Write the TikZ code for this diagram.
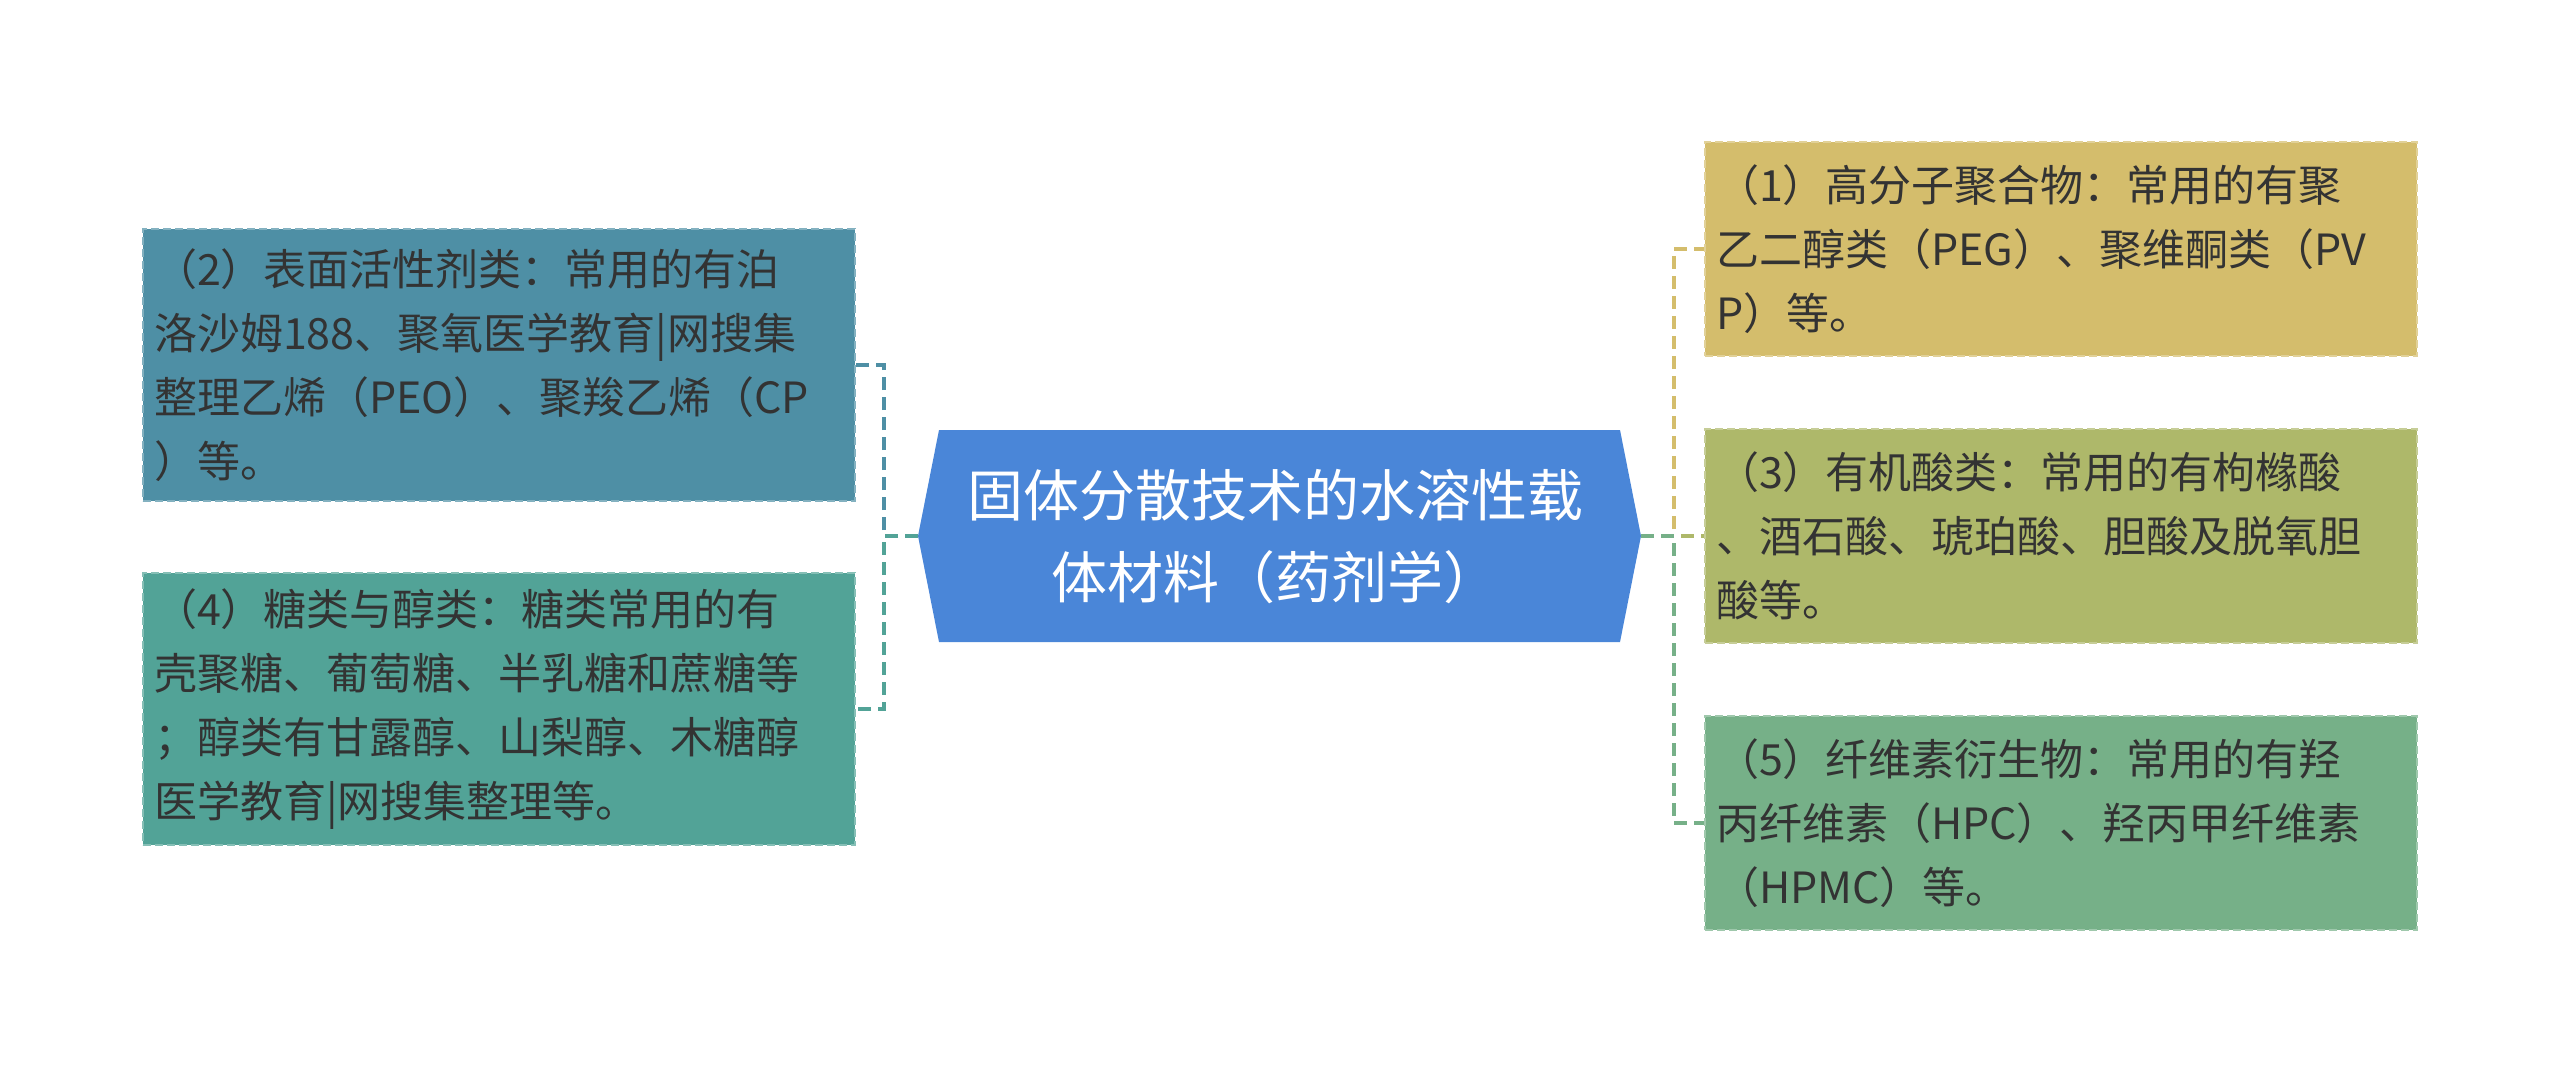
\documentclass[tikz,border=0pt]{standalone}
\usepackage{fontspec}
\setmainfont{Noto Sans CJK SC}
\usetikzlibrary{calc}
\definecolor{cB}{HTML}{4E8FA5}
\definecolor{cD}{HTML}{52A397}
\definecolor{cA}{HTML}{D4BD6C}
\definecolor{cC}{HTML}{AEB86A}
\definecolor{cE}{HTML}{76B088}
\definecolor{cM}{HTML}{4A86D8}
\definecolor{tx}{HTML}{333333}
\tikzset{
  leaf/.style={draw=#1!70!white, fill=#1, line width=2.5pt, dash pattern=on 8pt off 4pt, minimum width=712pt, minimum height=214pt, text width=690pt, align=left, inner sep=0pt, text=tx, font=\fontsize{43}{64}\selectfont},
  conn/.style={draw=#1, line width=3.5pt, dash pattern=on 13pt off 7pt},
}
\begin{document}
\begin{tikzpicture}[x=1pt,y=-1pt]
\useasboundingbox (0,0) rectangle (2560,1075);
% centre hexagon
\fill[cM] (918,536) -- (939,430) -- (1620,430) -- (1641,536) -- (1620,642) -- (939,642) -- cycle;
\node[text=white, align=center, font=\fontsize{56}{82}\selectfont] (m) at (1275,536) {固体分散技术的水溶性载\\体材料（药剂学）};
\coordinate (ml) at (918,536);
\coordinate (mr) at (1641,536);
% left
\node[leaf=cB, minimum height=272pt] (b2) at (499,365) {（2）表面活性剂类：常用的有泊\\洛沙姆188、聚氧医学教育|网搜集\\整理乙烯（PEO）、聚羧乙烯（CP\\）等。};
\node[leaf=cD, minimum height=272pt] (b4) at (499,709) {（4）糖类与醇类：糖类常用的有\\壳聚糖、葡萄糖、半乳糖和蔗糖等\\；醇类有甘露醇、山梨醇、木糖醇\\医学教育|网搜集整理等。};
% right
\node[leaf=cA] (b1) at (2061,249) {（1）高分子聚合物：常用的有聚\\乙二醇类（PEG）、聚维酮类（PV\\P）等。};
\node[leaf=cC] (b3) at (2061,536) {（3）有机酸类：常用的有枸橼酸\\、酒石酸、琥珀酸、胆酸及脱氧胆\\酸等。};
\node[leaf=cE] (b5) at (2061,823) {（5）纤维素衍生物：常用的有羟\\丙纤维素（HPC）、羟丙甲纤维素\\（HPMC）等。};
% connectors
\draw[conn=cB] (ml) -- (884,536) |- (b2.east);
\draw[conn=cD] (ml) -- (884,536) |- (b4.east);
\draw[conn=cA] (mr) -- (1674,536) |- (b1.west);
\draw[conn=cC] (mr) -- (b3.west);
\draw[conn=cE] (mr) -- (1674,536) |- (b5.west);
\end{tikzpicture}
\end{document}
